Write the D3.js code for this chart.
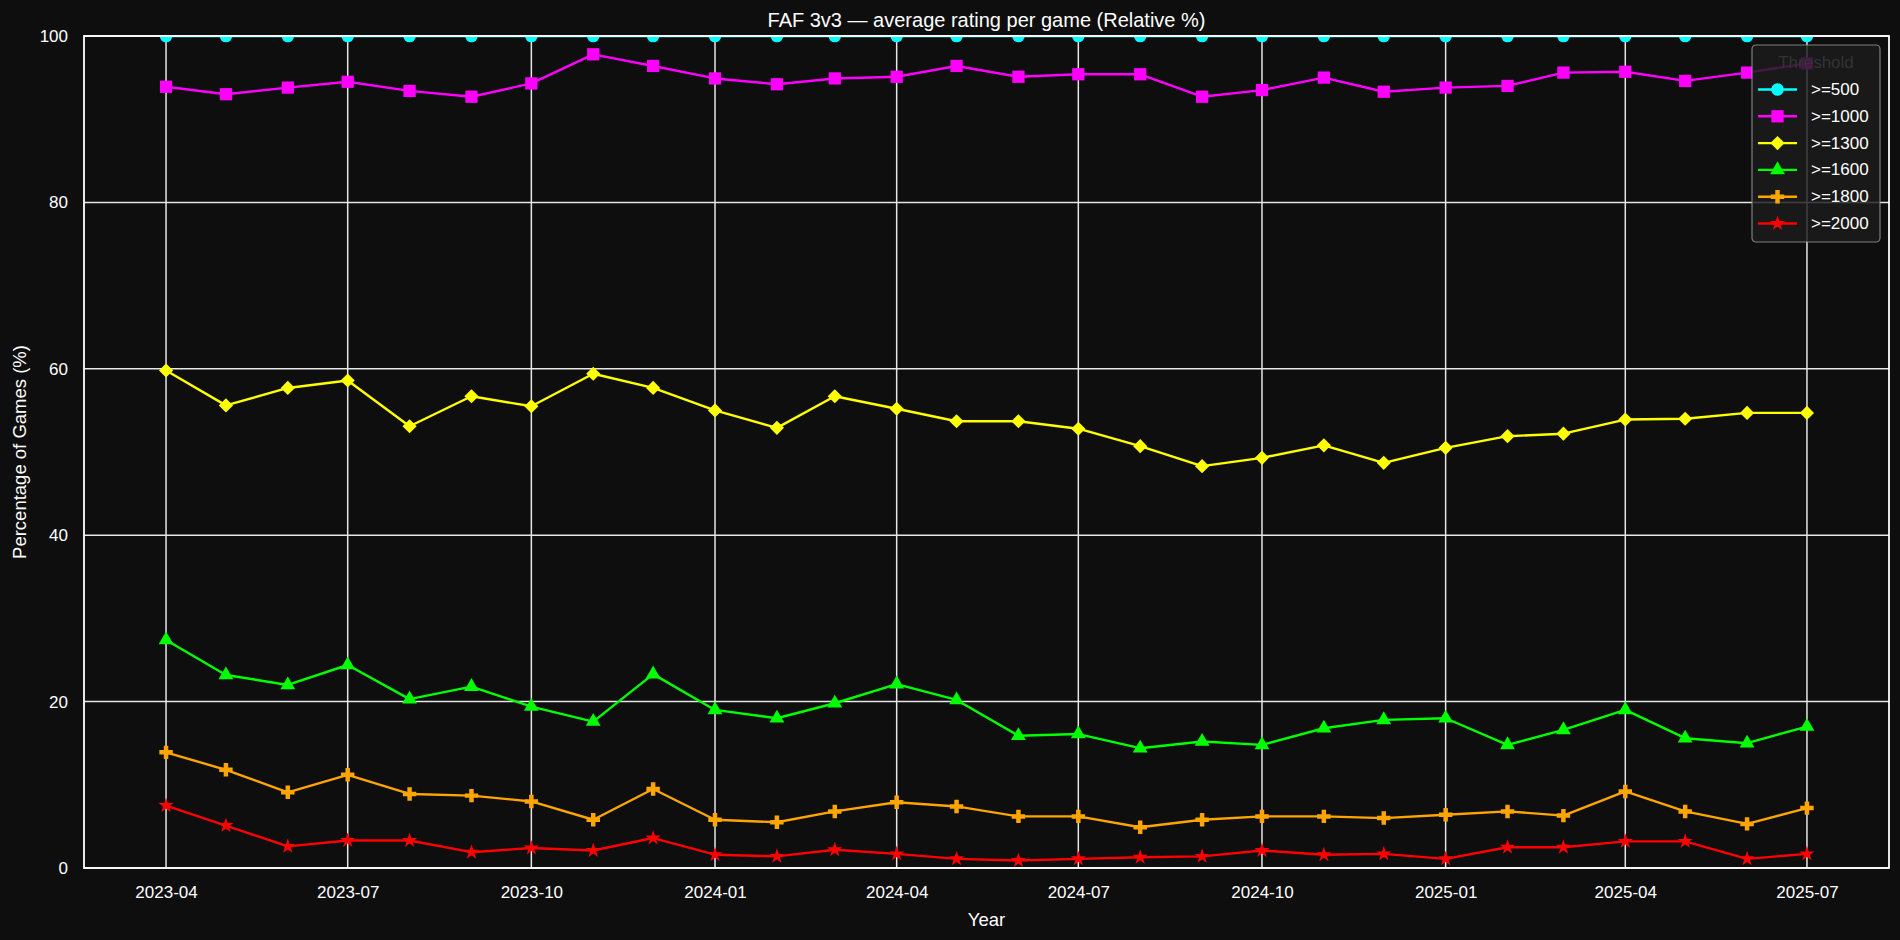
<!DOCTYPE html>
<html>
<head>
<meta charset="utf-8">
<script src="https://cdn.jsdelivr.net/npm/d3@7"></script>
<style>
    html, body { margin: 0; padding: 0; background: #0e0e0e; }
    svg { display: block; font-family: "Liberation Sans", Arial, sans-serif; }
</style>
</head>
<body>
<div class="content"></div>
<script>
(function (window) {
    'use strict';
    var months = ["2023-04", "2023-05", "2023-06", "2023-07", "2023-08", "2023-09", "2023-10",
        "2023-11", "2023-12", "2024-01", "2024-02", "2024-03", "2024-04", "2024-05",
        "2024-06", "2024-07", "2024-08", "2024-09", "2024-10", "2024-11", "2024-12",
        "2025-01", "2025-02", "2025-03", "2025-04", "2025-05", "2025-06", "2025-07"],
        thresholds = [">=500", ">=1000", ">=1300", ">=1600", ">=1800", ">=2000"],
        pct500 = [100, 100, 100, 100, 100, 100, 100, 100, 100, 100, 100, 100, 100, 100,
            100, 100, 100, 100, 100, 100, 100, 100, 100, 100, 100, 100, 100, 100],
        pct1000 = [93.9, 93.0, 93.8, 94.5, 93.4, 92.7, 94.3, 97.8, 96.4, 94.9, 94.2, 94.9, 95.1, 96.4,
            95.1, 95.4, 95.4, 92.7, 93.5, 95.0, 93.3, 93.8, 94.0, 95.6, 95.7, 94.6, 95.6, 96.7],
        pct1300 = [59.8, 55.6, 57.7, 58.6, 53.1, 56.7, 55.5, 59.4, 57.7, 55.0, 52.9, 56.7, 55.2, 53.7,
            53.7, 52.8, 50.7, 48.3, 49.3, 50.8, 48.7, 50.5, 51.9, 52.2, 53.9, 54.0, 54.7, 54.7],
        pct1600 = [27.4, 23.2, 22.0, 24.4, 20.3, 21.8, 19.4, 17.6, 23.3, 19.0, 18.0, 19.8, 22.1, 20.2,
            15.9, 16.1, 14.4, 15.2, 14.8, 16.8, 17.8, 18.0, 14.8, 16.6, 19.0, 15.6, 15.0, 17.0],
        pct1800 = [13.9, 11.8, 9.1, 11.2, 8.9, 8.7, 8.0, 5.8, 9.5, 5.8, 5.5, 6.8, 7.9, 7.4,
            6.2, 6.2, 4.9, 5.8, 6.2, 6.2, 6.0, 6.4, 6.8, 6.3, 9.2, 6.8, 5.3, 7.2],
        pct2000 = [7.5, 5.1, 2.6, 3.3, 3.3, 1.9, 2.4, 2.1, 3.6, 1.6, 1.4, 2.2, 1.7, 1.1,
            0.9, 1.1, 1.3, 1.4, 2.1, 1.6, 1.7, 1.1, 2.5, 2.5, 3.2, 3.2, 1.1, 1.7],
        yTicks = [0, 20, 40, 60, 80, 100],
        colors = ["#00ffff", "#ff00ff", "#ffff00", "#00ff00", "#ffa500", "#ff0000"],
        chartOptions = {
            width: 1900,
            height: 940,
            margin: {top: 36, right: 11, bottom: 72, left: 84},
            background: "#0e0e0e",
            gridColor: "#e6e6e6",
            lineWidth: 2.4
        };

    function markerPath(i) {
        // circle, square, diamond, triangle, filled plus, star
        var types = [
            [d3.symbolCircle, 125], [d3.symbolSquare, 150], [d3.symbolSquare, 100],
            [d3.symbolTriangle, 95], [d3.symbolCross, 100], [d3.symbolStar, 72]
        ];
        return d3.symbol().type(types[i][0]).size(types[i][1])();
    }

    function markerRotate(i) {
        return i === 2 ? " rotate(45)" : "";
    }

    function buildSeries() {
        var values = [pct500, pct1000, pct1300, pct1600, pct1800, pct2000],
            parse = d3.timeParse("%Y-%m");
        return thresholds.map(function (name, i) {
            return {
                name: name,
                color: colors[i],
                idx: i,
                points: months.map(function (m, j) {
                    return {date: parse(m), value: values[i][j]};
                })
            };
        });
    }

    function styleTicks(g) {
        g.select(".domain").remove();
        g.selectAll("text").attr("fill", "#ffffff").attr("font-size", "17px")
            .attr("font-family", "Liberation Sans, Arial, sans-serif");
    }

    function drawChart() {
        var o = chartOptions, m = o.margin,
            innerW = o.width - m.left - m.right,
            innerH = o.height - m.top - m.bottom,
            series = buildSeries(),
            first = series[0].points[0].date,
            last = series[0].points[series[0].points.length - 1].date,
            pad = (last - first) * 0.05,
            svg, plot, x, y, line, lines, leg;

        x = d3.scaleTime()
            .domain([new Date(+first - pad), new Date(+last + pad)])
            .range([0, innerW]);
        y = d3.scaleLinear().domain([0, 100]).range([innerH, 0]);

        svg = d3.select(".content").append("svg")
            .attr("width", o.width)
            .attr("height", o.height);
        svg.append("rect").attr("width", o.width).attr("height", o.height).attr("fill", o.background);

        svg.append("defs").append("clipPath").attr("id", "plot-clip")
            .append("rect").attr("width", innerW).attr("height", innerH);

        plot = svg.append("g").attr("transform", "translate(" + [m.left, m.top] + ")");

        // grid
        plot.append("g").selectAll("line")
            .data(x.ticks(d3.timeMonth.every(3)))
            .enter().append("line")
            .attr("x1", function (d) { return x(d); })
            .attr("x2", function (d) { return x(d); })
            .attr("y1", 0).attr("y2", innerH)
            .attr("stroke", o.gridColor).attr("stroke-width", 1.5);
        plot.append("g").selectAll("line")
            .data(yTicks)
            .enter().append("line")
            .attr("x1", 0).attr("x2", innerW)
            .attr("y1", function (d) { return y(d); })
            .attr("y2", function (d) { return y(d); })
            .attr("stroke", o.gridColor).attr("stroke-width", 1.5);

        // axes (labels only, no tick marks)
        plot.append("g")
            .attr("transform", "translate(0," + innerH + ")")
            .call(d3.axisBottom(x).ticks(d3.timeMonth.every(3)).tickFormat(d3.timeFormat("%Y-%m")).tickSize(0).tickPadding(18))
            .call(styleTicks);
        plot.append("g")
            .call(d3.axisLeft(y).tickValues(yTicks).tickSize(0).tickPadding(16))
            .call(styleTicks);

        // series
        line = d3.line()
            .x(function (d) { return x(d.date); })
            .y(function (d) { return y(d.value); });

        lines = plot.append("g").attr("clip-path", "url(#plot-clip)")
            .selectAll("g.series").data(series)
            .enter().append("g").attr("class", "series");
        lines.append("path")
            .attr("d", function (d) { return line(d.points); })
            .attr("fill", "none")
            .attr("stroke", function (d) { return d.color; })
            .attr("stroke-width", o.lineWidth)
            .attr("stroke-linejoin", "round");
        lines.each(function (s) {
            d3.select(this).selectAll("path.marker").data(s.points)
                .enter().append("path")
                .attr("class", "marker")
                .attr("d", markerPath(s.idx))
                .attr("transform", function (d) {
                    return "translate(" + [x(d.date), y(d.value)] + ")" + markerRotate(s.idx);
                })
                .attr("fill", s.color);
        });

        // spines
        plot.append("rect")
            .attr("width", innerW).attr("height", innerH)
            .attr("fill", "none").attr("stroke", "#ffffff").attr("stroke-width", 1.8);

        // legend, upper right
        leg = plot.append("g").attr("transform", "translate(" + [innerW - 137, 9] + ")");
        leg.append("rect")
            .attr("width", 128).attr("height", 197).attr("rx", 4)
            .attr("fill", "#1c1c1c").attr("fill-opacity", 0.82)
            .attr("stroke", "#9a9a9a").attr("stroke-opacity", 0.8).attr("stroke-width", 1.2);
        leg.append("text")
            .attr("x", 64).attr("y", 17)
            .attr("text-anchor", "middle").attr("dominant-baseline", "central")
            .attr("font-size", "17px").attr("fill", "#333333")
            .text("Threshold");
        series.forEach(function (s, i) {
            var row = leg.append("g").attr("transform", "translate(0," + (44.5 + i * 26.8) + ")");
            row.append("line")
                .attr("x1", 6).attr("x2", 45)
                .attr("stroke", s.color).attr("stroke-width", o.lineWidth);
            row.append("path")
                .attr("d", markerPath(s.idx))
                .attr("transform", "translate(25.5,0)" + markerRotate(s.idx))
                .attr("fill", s.color);
            row.append("text")
                .attr("x", 59).attr("y", 0)
                .attr("dominant-baseline", "central")
                .attr("font-size", "17px").attr("fill", "#ffffff")
                .text(s.name);
        });

        // titles
        svg.append("text")
            .attr("x", m.left + innerW / 2).attr("y", 27)
            .attr("text-anchor", "middle")
            .attr("font-size", "20px").attr("fill", "#ffffff")
            .text("FAF 3v3 \u2014 average rating per game (Relative %)");
        svg.append("text")
            .attr("x", m.left + innerW / 2).attr("y", 926)
            .attr("text-anchor", "middle")
            .attr("font-size", "18.5px").attr("fill", "#ffffff")
            .text("Year");
        svg.append("text")
            .attr("transform", "translate(26," + (m.top + innerH / 2) + ") rotate(-90)")
            .attr("text-anchor", "middle")
            .attr("font-size", "18.5px").attr("fill", "#ffffff")
            .text("Percentage of Games (%)");
    }

    drawChart();
}(window));
</script>
</body>
</html>
